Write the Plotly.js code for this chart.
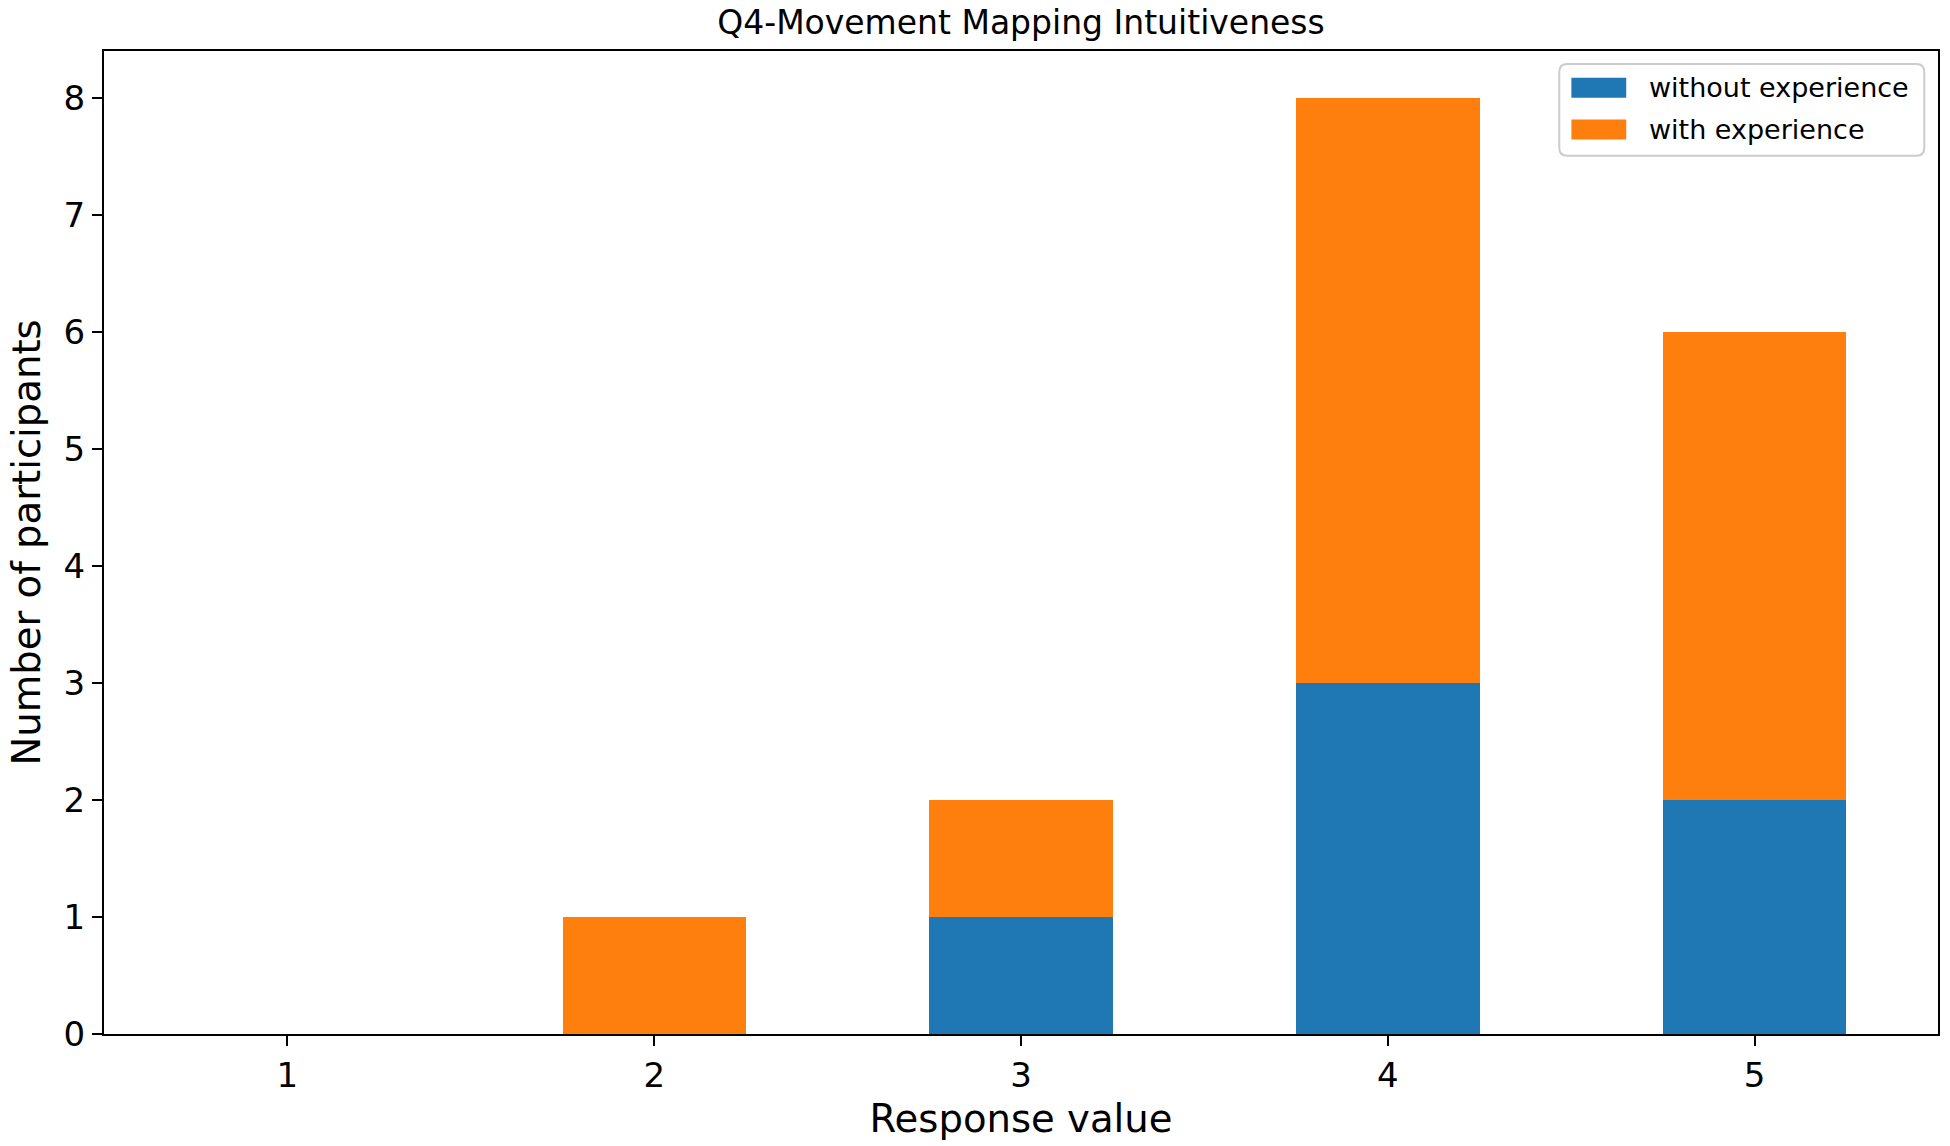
<!DOCTYPE html>
<html>
<head>
<meta charset="utf-8">
<script src="https://cdn.plot.ly/plotly-3.0.1.min.js"></script>
<style>html,body{margin:0;padding:0;background:#fff;}#chart{width:1950px;height:1146px;}</style>
</head>
<body>
<div id="chart"></div>
<script>
const categories = [1, 2, 3, 4, 5];
const withoutExperience = [0, 0, 1, 3, 2];
const withExperience = [0, 1, 1, 5, 4];
const seriesNames = ["without experience", "with experience"];
const seriesColors = ["#1f77b4", "#ff7f0e"];
const yTicks = [0, 1, 2, 3, 4, 5, 6, 7, 8];

const FONT = "DejaVu Sans, sans-serif";

const traces = [
  {type: "bar", x: categories, y: withoutExperience, name: seriesNames[0],
   marker: {color: seriesColors[0], line: {width: 0}}, width: 0.5, hoverinfo: "none"},
  {type: "bar", x: categories, y: withExperience, name: seriesNames[1],
   marker: {color: seriesColors[1], line: {width: 0}}, width: 0.5, hoverinfo: "none"}
];

// legend geometry (paper coords)
const lx0 = 0.7935, lx1 = 0.99253, ly0 = 0.89349, ly1 = 0.98678;
const rx = 8/1834, ry = 8/983;
const boxPath = `M ${lx0+rx} ${ly1} L ${lx1-rx} ${ly1} Q ${lx1} ${ly1} ${lx1} ${ly1-ry} L ${lx1} ${ly0+ry} Q ${lx1} ${ly0} ${lx1-rx} ${ly0} L ${lx0+rx} ${ly0} Q ${lx0} ${ly0} ${lx0} ${ly0+ry} L ${lx0} ${ly1-ry} Q ${lx0} ${ly1} ${lx0+rx} ${ly1} Z`;
const rows = [{y0: 0.9525, y1: 0.9728}, {y0: 0.9100, y1: 0.9303}];

const shapes = [{type: "path", xref: "paper", yref: "paper", path: boxPath,
  fillcolor: "rgba(255,255,255,0.8)", line: {color: "#cccccc", width: 2}}];
const annotations = [];
seriesNames.forEach((n, i) => {
  shapes.push({type: "rect", xref: "paper", yref: "paper", x0: 0.8001, x1: 0.8300,
    y0: rows[i].y0, y1: rows[i].y1, fillcolor: seriesColors[i], line: {width: 0}});
  annotations.push({xref: "paper", yref: "paper", x: 0.8411, y: (rows[i].y0 + rows[i].y1)/2,
    xanchor: "left", yanchor: "middle", text: n, showarrow: false,
    font: {family: FONT, size: 27, color: "#000"}});
});

const layout = {
  width: 1950, height: 1146,
  margin: {l: 103.7, r: 12.3, t: 51, b: 112, pad: 0},
  paper_bgcolor: "#fff", plot_bgcolor: "#fff",
  barmode: "stack", bargap: 0.5,
  showlegend: false,
  font: {family: FONT, color: "#000"},
  title: {text: "Q4-Movement Mapping Intuitiveness", font: {family: FONT, size: 33, color: "#000"},
    x: 0.5, xanchor: "center", y: 0.98, yanchor: "middle", xref: "paper"},
  xaxis: {range: [0.5, 5.5], tickvals: categories, ticktext: categories.map(String),
    ticks: "outside", ticklen: 10, tickwidth: 2, tickcolor: "#000",
    showline: true, linecolor: "#000", linewidth: 2, mirror: true,
    showgrid: false, zeroline: false,
    tickfont: {family: FONT, size: 34, color: "#000"},
    title: {text: "Response value", font: {family: FONT, size: 38.6, color: "#000"}, standoff: 11}},
  yaxis: {range: [0, 8.4], tickvals: yTicks, ticktext: yTicks.map(String),
    ticks: "outside", ticklen: 10, tickwidth: 2, tickcolor: "#000",
    showline: true, linecolor: "#000", linewidth: 2, mirror: true,
    showgrid: false, zeroline: false,
    tickfont: {family: FONT, size: 34, color: "#000"},
    title: {text: "Number of participants", font: {family: FONT, size: 38.6, color: "#000"}, standoff: 11.5}},
  shapes: shapes,
  annotations: annotations
};

Plotly.newPlot("chart", traces, layout, {displayModeBar: false, staticPlot: true});
</script>
</body>
</html>
